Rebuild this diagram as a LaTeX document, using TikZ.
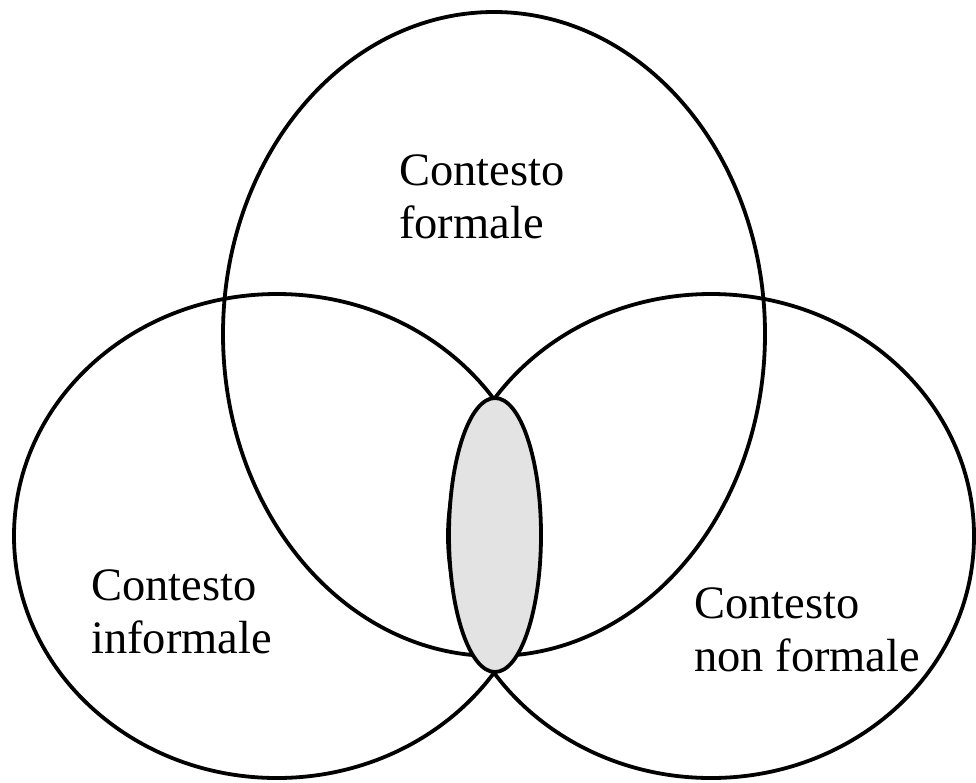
\documentclass[tikz,border=0pt]{standalone}
\usepackage{fontspec}
\setmainfont{Liberation Serif}
\begin{document}
\begin{tikzpicture}[x=1pt,y=-1pt,
  setline/.style={draw=black, line width=3.8pt},
  core/.style={draw=black, line width=3.8pt, fill=black!11},
  lbl/.style={align=left, anchor=north west, inner sep=0pt, font=\fontsize{46.5}{53}\selectfont}]
\useasboundingbox (0,0) rectangle (976,782);
\fill[white] (0,0) rectangle (976,782);
\draw[setline] (494,334) ellipse [x radius=271, y radius=322];
\draw[setline] (277,536) ellipse [x radius=263, y radius=242];
\draw[setline] (711,536) ellipse [x radius=263, y radius=242];
\draw[core] (495,535) ellipse [x radius=46, y radius=137];
\node[lbl] (formale) at (399,155) {Contesto\\formale};
\node[lbl] (informale) at (91,569) {Contesto\\informale};
\node[lbl] (nonformale) at (694,587) {Contesto\\non formale};
\end{tikzpicture}
\end{document}
